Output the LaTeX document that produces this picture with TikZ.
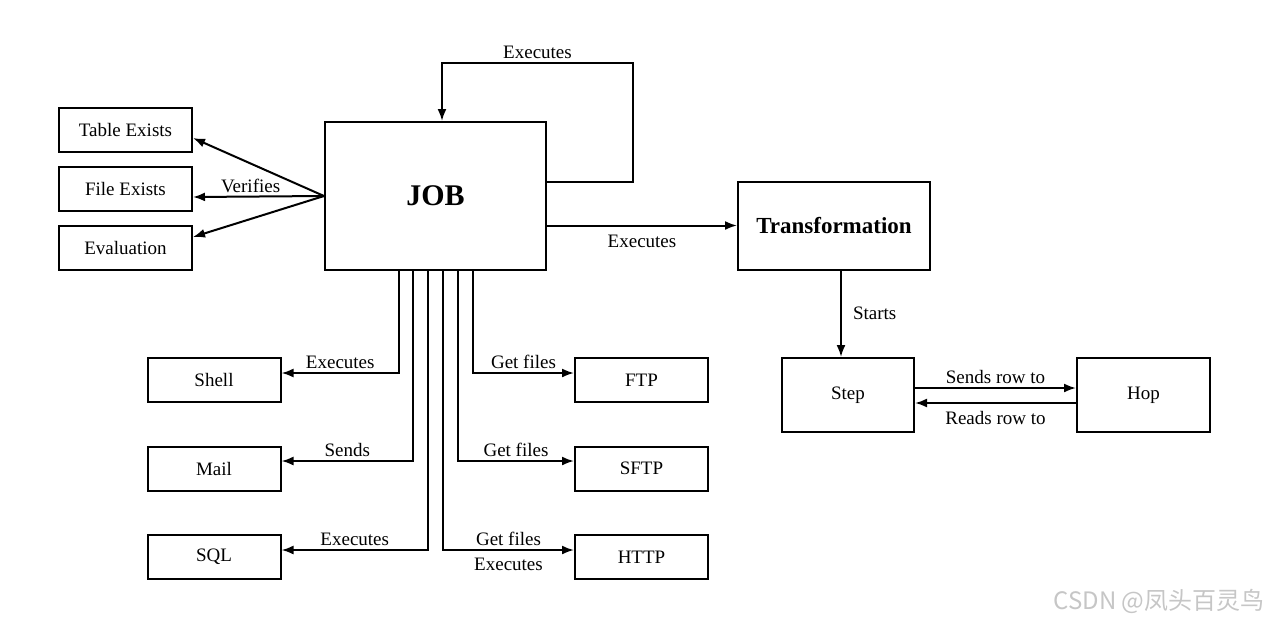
\documentclass[tikz,border=0pt]{standalone}
\usepackage{fontspec}
\setmainfont{Liberation Serif}
\newfontfamily\cjk{Noto Sans CJK SC}
\usetikzlibrary{arrows.meta}
\begin{document}
\begin{tikzpicture}[
  x=0.5pt, y=-0.5pt,
  box/.style={rectangle, draw, line width=1pt, minimum width=66.5pt,
              minimum height=22pt, inner sep=0pt,
              font=\fontsize{9.5}{11}\selectfont},
  big/.style={box, font=\bfseries\fontsize{11.5}{13}\selectfont},
  lbl/.style={font=\fontsize{9.5}{11}\selectfont, inner sep=1.5pt},
  arr/.style={-{Latex[length=6pt,width=4.5pt]}, line width=1pt}
]
  \useasboundingbox (0,0) rectangle (1270,622);

  % Job and its checks
  \node[big, minimum width=110.5pt, minimum height=74pt,
        font=\bfseries\fontsize{15}{17}\selectfont] (job) at (435.5,196) {JOB};
  \node[box] (tabex) at (125.5,130) {Table Exists};
  \node[box] (filex) at (125.5,189) {File Exists};
  \node[box] (evaln) at (125.5,248) {Evaluation};
  \draw[arr] (job.west) -- ([yshift=-4pt]tabex.east);
  \draw[arr] (job.west) -- node[lbl, pos=0.56, above] {Verifies} ([yshift=-4pt]filex.east);
  \draw[arr] (job.west) -- ([yshift=5.5pt]evaln.east);

  % Loop back to the job
  \coordinate (loopc) at (633,63);
  \draw[arr] ([yshift=7pt]job.east) -| (loopc)
    -| node[lbl, pos=0.25, above] {Executes} ([xshift=3.25pt]job.north);

  % Transformation side
  \node[big, minimum width=96pt, minimum height=44pt] (trans) at (834,225.5) {Transformation};
  \node[box, minimum width=66pt, minimum height=37pt] (step) at (848,395) {Step};
  \node[box, minimum width=66.5pt, minimum height=37pt] (hop) at (1143.5,395) {Hop};
  \draw[arr] (job.east |- trans.west) -- node[lbl, midway, below=3pt] {Executes} (trans.west);
  \draw[arr] ([xshift=3.5pt]trans.south) -- node[lbl, midway, right=4pt] {Starts}
    ([xshift=-3.5pt]step.north);
  \draw[arr] ([yshift=3.5pt]step.east) -- node[lbl, midway, above] {Sends row to}
    ([yshift=3.5pt]hop.west);
  \draw[arr] ([yshift=-4pt]hop.west) -- node[lbl, midway, below=2pt] {Reads row to}
    ([yshift=-4pt]step.east);

  % Entries under the job
  \node[box] (shell) at (214,380) {Shell};
  \node[box] (mail) at (214,468.5) {Mail};
  \node[box] (sql) at (214,557) {SQL};
  \node[box] (ftp) at (641.5,380) {FTP};
  \node[box] (sftp) at (641.5,468.5) {SFTP};
  \node[box] (http) at (641.5,557) {HTTP};
  \draw[arr] ([xshift=-18.25pt]job.south) |- node[lbl, pos=0.75, above] {Executes}
    ([yshift=3.5pt]shell.east);
  \draw[arr] ([xshift=-11.25pt]job.south) |- node[lbl, pos=0.75, above] {Sends}
    ([yshift=3.75pt]mail.east);
  \draw[arr] ([xshift=-3.75pt]job.south) |- node[lbl, pos=0.75, above] {Executes}
    ([yshift=3.5pt]sql.east);
  \draw[arr] ([xshift=3.75pt]job.south) |- node[lbl, pos=0.75, above] {Get files}
    node[lbl, pos=0.75, below=2pt] {Executes} ([yshift=3.5pt]http.west);
  \draw[arr] ([xshift=11.25pt]job.south) |- node[lbl, pos=0.75, above] {Get files}
    ([yshift=3.75pt]sftp.west);
  \draw[arr] ([xshift=18.75pt]job.south) |- node[lbl, pos=0.75, above] {Get files}
    ([yshift=3.5pt]ftp.west);

  % Watermark
  \node[text=gray!45, font=\cjk\fontsize{12}{14}\selectfont] (mark) at (1159,601)
    {CSDN @凤头百灵鸟};
\end{tikzpicture}
\end{document}
